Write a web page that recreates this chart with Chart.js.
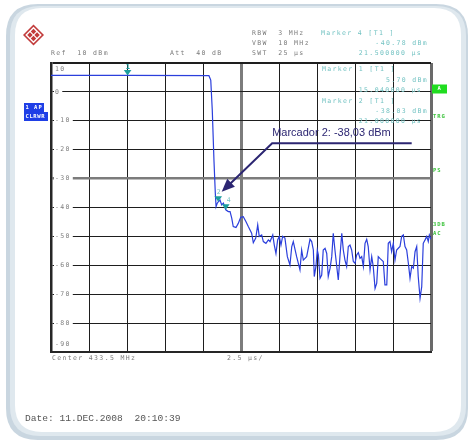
<!DOCTYPE html>
<html>
<head>
<meta charset="utf-8">
<script src="https://cdn.jsdelivr.net/npm/chart.js@4.4.1/dist/chart.umd.min.js"></script>
<style>
  html, body { margin: 0; padding: 0; background: #ffffff; }
  #wrap { width: 468px; height: 442px; }
</style>
</head>
<body>
<div id="wrap"><canvas id="c" width="468" height="442"></canvas></div>
<script>
// Zero-span trace: time after trigger (µs) and level (dBm)
const timeUs = [
  10.00, 15.04, 20.39, 20.51, 20.61, 20.72, 20.81, 20.86, 20.94, 21.00,
  21.12, 21.23, 21.34, 21.50, 21.66, 21.78, 21.89, 21.99, 22.17, 22.32,
  22.48, 22.65, 22.83, 22.98, 23.20, 23.31, 23.47, 23.60, 23.70, 23.86,
  23.97, 24.14, 24.30, 24.41, 24.59, 24.69, 24.80, 24.91, 25.02, 25.13,
  25.24, 25.39, 25.55, 25.72, 25.84, 25.94, 26.16, 26.38, 26.49, 26.60,
  26.82, 27.04, 27.15, 27.26, 27.32, 27.43, 27.52, 27.59, 27.70, 27.81,
  27.91, 28.03, 28.14, 28.24, 28.36, 28.47, 28.57, 28.68, 28.80, 28.90,
  29.01, 29.13, 29.23, 29.34, 29.45, 29.56, 29.67, 29.78, 29.89, 30.00,
  30.11, 30.22, 30.33, 30.44, 30.55, 30.66, 30.77, 30.87, 30.99, 31.10,
  31.20, 31.32, 31.43, 31.53, 31.64, 31.76, 31.86, 31.97, 32.09, 32.19,
  32.30, 32.41, 32.52, 32.63, 32.74, 32.85, 32.96, 33.07, 33.18, 33.29,
  33.40, 33.51, 33.62, 33.73, 33.84, 33.95, 34.06, 34.16, 34.28, 34.39,
  34.49, 34.61, 34.72, 34.82, 34.89, 35.00
];
const levelDbm = [
  5.7, 5.7, 5.6, 4.1, -6.3, -23.6, -35.1, -39.7, -38.5, -38.03,
  -37.4, -39.1, -38.5, -40.78, -41.4, -41.4, -43.7, -46.6, -46.9, -45.5,
  -43.4, -43.2, -44.9, -46.6, -48.9, -52.2, -50.6, -46.0, -50.0, -49.5,
  -51.8, -52.4, -51.2, -51.8, -49.5, -53.0, -55.9, -51.2, -50.0, -53.0,
  -50.0, -50.6, -57.0, -59.9, -53.5, -51.8, -57.0, -61.6, -54.7, -58.2,
  -57.0, -51.0, -51.8, -54.7, -63.9, -60.4, -54.7, -56.4, -64.5, -63.4,
  -54.7, -54.1, -55.9, -63.9, -61.0, -57.0, -48.9, -54.7, -60.4, -65.1,
  -57.0, -48.9, -54.7, -58.2, -60.4, -53.5, -53.0, -54.7, -58.7, -59.3,
  -56.4, -55.6, -57.6, -57.0, -60.4, -52.4, -51.0, -53.5, -61.6, -57.0,
  -60.4, -68.0, -66.2, -57.0, -57.6, -58.2, -58.7, -66.8, -66.8, -52.4,
  -51.8, -55.3, -52.4, -58.2, -54.7, -54.1, -53.5, -50.0, -49.5, -53.5,
  -54.7, -59.3, -64.5, -60.4, -61.0, -55.3, -53.5, -63.9, -71.4, -67.4,
  -52.4, -51.2, -50.0, -51.8, -49.5, -51.0
];

// Axis settings: 10 divisions of 2.5 µs, reference level 10 dBm, 10 dB/div
const timeStart = 10, timeStop = 35, timeStep = 2.5;
const refLevel = 10, bottomLevel = -90, levelStep = 10;
const yTickLabels = ['10', '0', '-10', '-20', '-30', '-40', '-50', '-60', '-70', '-80', '-90'];

// Markers
const markerIds = ['1', '2', '4'];
const markerTimes = [15.04, 21.0, 21.5];
const markerLevels = [5.70, -38.03, -40.78];

// Annotation
const calloutText = 'Marcador 2: -38,03 dBm';
const calloutAt = { t: 24.55, level: -14.2 };
const calloutLine = { t0: 24.55, t1: 33.73, level: -17.8 };

const MONO = '"DejaVu Sans Mono", "Liberation Mono", monospace';

function text(ctx, s, x, y, o) {
  o = o || {};
  ctx.save();
  ctx.font = o.font || ('6.5px ' + MONO);
  ctx.fillStyle = o.color || '#7a7a7a';
  ctx.textBaseline = 'middle';
  ctx.textAlign = 'left';
  ctx.letterSpacing = (o.spacing !== undefined ? o.spacing : 1.35) + 'px';
  let w = ctx.measureText(s).width;
  let xx = o.align === 'right' ? x - w : x;
  if (o.bg) {
    ctx.fillStyle = o.bg;
    ctx.fillRect(xx - (o.padL || 1), y - (o.h || 8) / 2, w + (o.padL || 1) + (o.padR || 1), o.h || 8);
    ctx.fillStyle = o.color || '#7a7a7a';
  }
  ctx.fillText(s, xx, y);
  ctx.restore();
  return w;
}

function roundRect(ctx, x, y, w, h, r) {
  ctx.beginPath();
  ctx.moveTo(x + r, y);
  ctx.lineTo(x + w - r, y);
  ctx.quadraticCurveTo(x + w, y, x + w, y + r);
  ctx.lineTo(x + w, y + h - r);
  ctx.quadraticCurveTo(x + w, y + h, x + w - r, y + h);
  ctx.lineTo(x + r, y + h);
  ctx.quadraticCurveTo(x, y + h, x, y + h - r);
  ctx.lineTo(x, y + r);
  ctx.quadraticCurveTo(x, y, x + r, y);
  ctx.closePath();
}

const framePlugin = {
  id: 'frame',
  beforeDraw(chart) {
    const ctx = chart.ctx;
    ctx.save();
    ctx.fillStyle = '#ffffff';
    ctx.fillRect(0, 0, chart.width, chart.height);
    // card with soft blue-grey rim
    roundRect(ctx, 6, 4, 462, 436, 32);
    ctx.fillStyle = '#c9d6e0';
    ctx.fill();
    roundRect(ctx, 10, 6, 456, 430, 30);
    ctx.fillStyle = '#dfe8ee';
    ctx.fill();
    roundRect(ctx, 15, 8, 446, 424, 27);
    ctx.fillStyle = '#ffffff';
    ctx.fill();

    // R&S style logo
    const cx = 33.5, cy = 35, r = 10.5;
    ctx.translate(cx, cy);
    ctx.rotate(Math.PI / 4);
    const s = r / Math.SQRT2;
    ctx.fillStyle = '#c23b3b';
    ctx.fillRect(-s, -s, 2 * s, 2 * s);
    ctx.fillStyle = '#ffffff';
    ctx.fillRect(-s + 1.6, -s + 1.6, 2 * s - 3.2, 2 * s - 3.2);
    ctx.fillStyle = '#c23b3b';
    ctx.fillRect(-s + 3, -s + 3, s - 3.6, s - 3.6);
    ctx.fillRect(0.6, 0.6, s - 3.6, s - 3.6);
    ctx.fillRect(-s + 3, 0.6, s - 3.6, s - 3.6);
    ctx.fillRect(0.6, -s + 3, s - 3.6, s - 3.6);
    ctx.restore();
  },
  beforeDatasetsDraw(chart) {
    const ctx = chart.ctx;
    const y = chart.scales.y;
    const a = chart.chartArea;
    yTickLabels.forEach((lab, i) => {
      const v = refLevel - i * levelStep;
      let py = y.getPixelForValue(v);
      if (i === 0) py = a.top + 6;
      else if (i === yTickLabels.length - 1) py = a.bottom - 8;
      const bg = (i === 0 || i === yTickLabels.length - 1) ? null : '#ffffff';
      text(ctx, lab, a.left + 4, py, { bg: bg, padL: 1, padR: 2, h: 5, color: '#808080' });
    });
  },
  afterDraw(chart) {
    const ctx = chart.ctx;
    const xs = chart.scales.x, ys = chart.scales.y;
    const a = chart.chartArea;

    // instrument settings
    text(ctx, 'Ref  10 dBm', 51, 53);
    text(ctx, 'Att  40 dB', 170, 53);
    text(ctx, 'RBW  3 MHz', 252, 33);
    text(ctx, 'VBW  10 MHz', 252, 43);
    text(ctx, 'SWT  25 µs', 252, 53);
    const mk = '#74c3c3';
    text(ctx, 'Marker 4 [T1 ]', 321, 33, { color: mk });
    text(ctx, '-40.78 dBm', 428, 43, { color: mk, align: 'right' });
    text(ctx, '21.500000 µs', 422, 53, { color: mk, align: 'right' });
    text(ctx, 'Marker 1 [T1 ]', 322, 69.5, { color: mk });
    text(ctx, '5.70 dBm', 428, 80, { color: mk, align: 'right' });
    text(ctx, '15.040000 µs', 422, 90.5, { color: mk, align: 'right' });
    text(ctx, 'Marker 2 [T1 ]', 322, 101, { color: mk });
    text(ctx, '-38.03 dBm', 428, 111, { color: mk, align: 'right' });
    text(ctx, '21.000000 µs', 422, 121.5, { color: mk, align: 'right' });

    text(ctx, 'Center 433.5 MHz', 52, 358);
    text(ctx, '2.5 µs/', 227, 358);
    text(ctx, 'Date: 11.DEC.2008  20:10:39', 25, 418, { font: '9.6px "Liberation Mono", monospace', color: '#555555', spacing: 0 });

    // trace / detector badge
    ctx.save();
    ctx.fillStyle = '#1f3fe6';
    ctx.fillRect(24, 103, 20, 9);
    ctx.fillRect(24, 112, 24, 9);
    ctx.restore();
    text(ctx, '1 AP', 25.5, 107.5, { color: '#ffffff', font: 'bold 5.5px ' + MONO, spacing: 1 });
    text(ctx, 'CLRWR', 25.5, 116.5, { color: '#ffffff', font: 'bold 5.5px ' + MONO, spacing: 0.6 });

    // right-hand status flags
    ctx.save();
    ctx.fillStyle = '#20dd20';
    ctx.fillRect(432, 84.5, 15, 9);
    ctx.restore();
    text(ctx, 'A', 437.5, 89, { color: '#ffffff', font: 'bold 5.5px ' + MONO });
    const gr = '#3fc43f';
    text(ctx, 'TRG', 433, 116.5, { color: gr, font: 'bold 5.5px ' + MONO, spacing: 1 });
    text(ctx, 'PS', 433, 170.5, { color: gr, font: 'bold 5.5px ' + MONO, spacing: 1 });
    text(ctx, '3DB', 433, 225, { color: gr, font: 'bold 5.5px ' + MONO, spacing: 1 });
    text(ctx, 'AC', 433, 234, { color: gr, font: 'bold 5.5px ' + MONO, spacing: 1 });

    // markers
    ctx.save();
    markerIds.forEach((id, i) => {
      const px = xs.getPixelForValue(markerTimes[i]);
      const py = ys.getPixelForValue(markerLevels[i]);
      ctx.fillStyle = '#1c9e9e';
      ctx.beginPath();
      ctx.moveTo(px, py);
      ctx.lineTo(px - 3.8, py - 5.5);
      ctx.lineTo(px + 3.8, py - 5.5);
      ctx.closePath();
      ctx.fill();
    });
    ctx.restore();
    const m1x = xs.getPixelForValue(markerTimes[0]);
    const m2x = xs.getPixelForValue(markerTimes[1]), m2y = ys.getPixelForValue(markerLevels[1]);
    const m4x = xs.getPixelForValue(markerTimes[2]), m4y = ys.getPixelForValue(markerLevels[2]);
    text(ctx, '1', m1x - 1.8, a.top + 4.5, { color: '#1c9e9e', font: 'bold 7px ' + MONO, spacing: 0 });
    text(ctx, '2', m2x - 1.5, m2y - 9, { color: '#7cc6c6', font: '6.5px ' + MONO, spacing: 0 });
    text(ctx, '4', m4x + 1, m4y - 9, { color: '#7cc6c6', font: '6.5px ' + MONO, spacing: 0 });

    // callout with arrow to marker 2
    const lx0 = xs.getPixelForValue(calloutLine.t0);
    const lx1 = xs.getPixelForValue(calloutLine.t1);
    const ly = ys.getPixelForValue(calloutLine.level);
    const tipX = m2x + 3.5, tipY = m2y - 10;
    ctx.save();
    ctx.strokeStyle = '#2c2672';
    ctx.fillStyle = '#2c2672';
    ctx.lineWidth = 2;
    ctx.beginPath();
    ctx.moveTo(lx1, ly);
    ctx.lineTo(lx0, ly);
    const dx = tipX - lx0, dy = tipY - ly, len = Math.hypot(dx, dy);
    const ux = dx / len, uy = dy / len;
    const headL = 13, headW = 5.5;
    const bx = tipX - ux * headL, by = tipY - uy * headL;
    ctx.lineTo(bx + ux * 2, by + uy * 2);
    ctx.stroke();
    ctx.beginPath();
    ctx.moveTo(tipX, tipY);
    ctx.lineTo(bx - uy * headW, by + ux * headW);
    ctx.lineTo(bx + uy * headW, by - ux * headW);
    ctx.closePath();
    ctx.fill();
    ctx.restore();
    ctx.save();
    ctx.font = '11px "Liberation Sans", Arial, sans-serif';
    ctx.fillStyle = '#2c2672';
    ctx.textBaseline = 'middle';
    ctx.fillText(calloutText, xs.getPixelForValue(calloutAt.t), ys.getPixelForValue(calloutAt.level));
    ctx.restore();
  }
};

function xGridColor(c) {
  const v = c.tick ? c.tick.value : null;
  if (v === 22.5) return '#7c7c7c';
  if (v === timeStop) return '#6a6a6a';
  return '#1e1e1e';
}
function xGridWidth(c) {
  const v = c.tick ? c.tick.value : null;
  if (v === 22.5) return 3;
  if (v === timeStop) return 3;
  return 1;
}
function yGridColor(c) {
  const v = c.tick ? c.tick.value : null;
  if (v === -30) return '#7c7c7c';
  return '#1e1e1e';
}
function yGridWidth(c) {
  const v = c.tick ? c.tick.value : null;
  if (v === -30) return 2.5;
  if (v === refLevel) return 2;
  return 1;
}

new Chart(document.getElementById('c'), {
  type: 'line',
  data: {
    datasets: [{
      data: timeUs.map((t, i) => ({ x: t, y: levelDbm[i] })),
      borderColor: '#2b3fdc',
      borderWidth: 1.2,
      pointRadius: 0,
      tension: 0,
      fill: false
    }]
  },
  options: {
    responsive: false,
    animation: false,
    events: [],
    layout: { padding: { left: 51, right: 37, top: 63, bottom: 90 } },
    plugins: { legend: { display: false }, tooltip: { enabled: false } },
    scales: {
      x: {
        type: 'linear', min: timeStart, max: timeStop,
        ticks: { display: false, stepSize: timeStep },
        grid: { color: xGridColor, lineWidth: xGridWidth, drawTicks: false },
        border: { display: true, color: '#262626', width: 2 }
      },
      y: {
        type: 'linear', min: bottomLevel, max: refLevel,
        ticks: { display: false, stepSize: levelStep },
        grid: { color: yGridColor, lineWidth: yGridWidth, drawTicks: false },
        border: { display: true, color: '#262626', width: 2.5 }
      }
    }
  },
  plugins: [framePlugin]
});
</script>
</body>
</html>
